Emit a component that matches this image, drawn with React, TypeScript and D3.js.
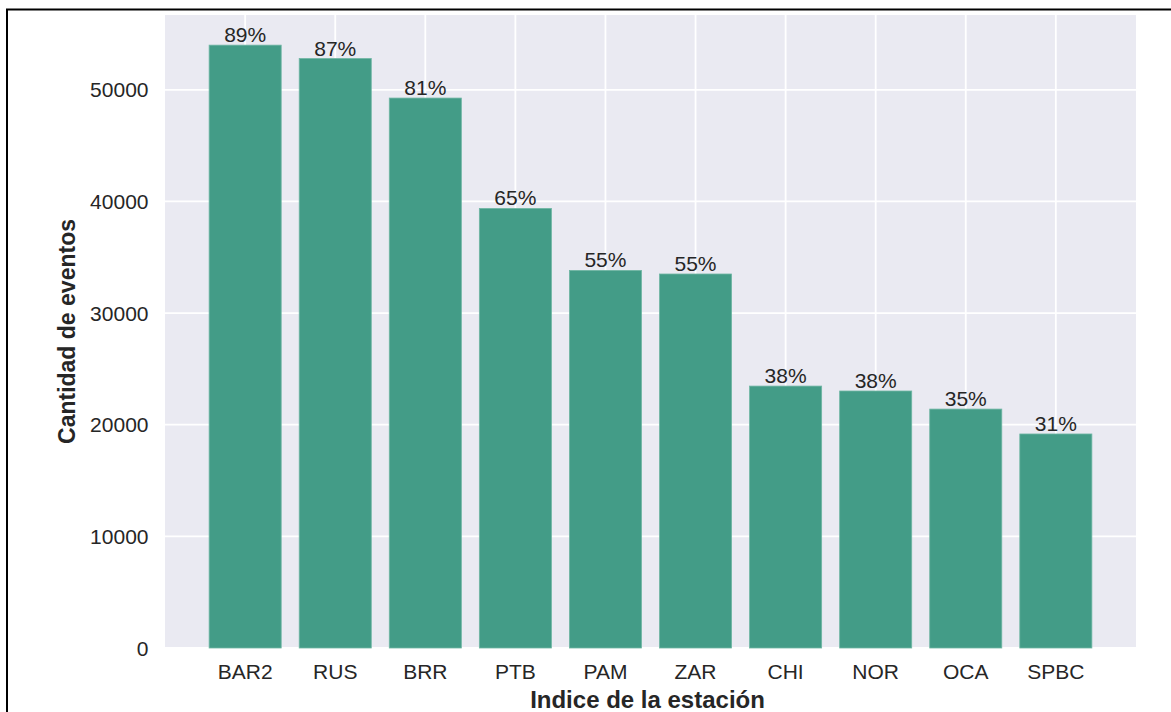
import React from "react";
import * as d3 from "d3";

const stations = ["BAR2", "RUS", "BRR", "PTB", "PAM", "ZAR", "CHI", "NOR", "OCA", "SPBC"];
const eventCounts = [54000, 52800, 49260, 39370, 33820, 33500, 23460, 23020, 21400, 19170];
const percentLabels = ["89%", "87%", "81%", "65%", "55%", "55%", "38%", "38%", "35%", "31%"];
const yTicks = [0, 10000, 20000, 30000, 40000, 50000];

const W = 1171;
const H = 712;
const plot = { left: 165, right: 1136, top: 15, bottom: 648 };
const textColor = "#262626";
const font = "Liberation Sans, Arial, Helvetica, sans-serif";

export default function App() {
  const x = d3
    .scaleBand<string>()
    .domain(stations)
    .range([plot.left, plot.right])
    .paddingInner(0.2)
    .paddingOuter(0.49);
  const yMax = (d3.max(eventCounts) as number) * 1.05;
  const y = d3.scaleLinear().domain([0, yMax]).range([plot.bottom, plot.top]);
  const bw = x.bandwidth();

  return (
    <svg
      width={W}
      height={H}
      style={{ position: "absolute", left: 0, top: 0, background: "#ffffff" }}
      fontFamily={font}
    >
      <rect x={0} y={0} width={W} height={H} fill="#ffffff" />
      <rect
        x={plot.left}
        y={plot.top}
        width={plot.right - plot.left}
        height={plot.bottom - plot.top}
        fill="#EAEAF2"
      />
      {/* grid */}
      {yTicks.map((t) => (
        <line
          key={"gy" + t}
          x1={plot.left}
          x2={plot.right}
          y1={y(t)}
          y2={y(t)}
          stroke="#ffffff"
          strokeWidth={1.8}
        />
      ))}
      {stations.map((s) => {
        const cx = (x(s) as number) + bw / 2;
        return (
          <line
            key={"gx" + s}
            x1={cx}
            x2={cx}
            y1={plot.top}
            y2={plot.bottom}
            stroke="#ffffff"
            strokeWidth={1.8}
          />
        );
      })}
      {/* bars */}
      {stations.map((s, i) => (
        <rect
          key={"b" + s}
          x={x(s) as number}
          y={y(eventCounts[i])}
          width={bw}
          height={y(0) - y(eventCounts[i])}
          fill="#439C87"
          stroke="#6fb6a4"
          strokeWidth={0.8}
        />
      ))}
      {/* percentage labels */}
      {stations.map((s, i) => (
        <text
          key={"p" + s}
          x={(x(s) as number) + bw / 2}
          y={y(eventCounts[i]) - 3}
          textAnchor="middle"
          fontSize={21}
          fill={textColor}
        >
          {percentLabels[i]}
        </text>
      ))}
      {/* y tick labels */}
      {yTicks.map((t) => (
        <text
          key={"yt" + t}
          x={148.5}
          y={y(t) + 7.6}
          textAnchor="end"
          fontSize={21}
          fill={textColor}
        >
          {t}
        </text>
      ))}
      {/* x tick labels */}
      {stations.map((s) => (
        <text
          key={"xt" + s}
          x={(x(s) as number) + bw / 2}
          y={679}
          textAnchor="middle"
          fontSize={21}
          fill={textColor}
        >
          {s}
        </text>
      ))}
      {/* axis labels */}
      <text
        x={(plot.left + plot.right) / 2 - 3}
        y={708}
        textAnchor="middle"
        fontSize={24}
        fontWeight="bold"
        fill={textColor}
      >
        Indice de la estación
      </text>
      <text
        transform={`translate(75, ${(plot.top + plot.bottom) / 2}) rotate(-90)`}
        textAnchor="middle"
        fontSize={23}
        fontWeight="bold"
        fill={textColor}
      >
        Cantidad de eventos
      </text>
      {/* frame */}
      <path d={`M7,${H} V9.5 H${W}`} fill="none" stroke="#000000" strokeWidth={2} />
    </svg>
  );
}
